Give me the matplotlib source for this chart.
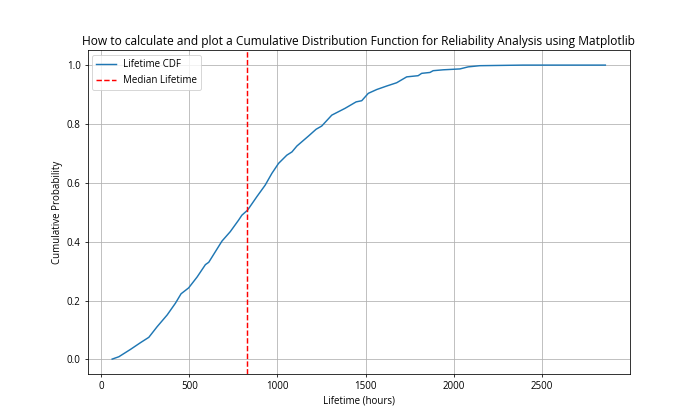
import matplotlib
matplotlib.use('Agg')
import matplotlib.pyplot as plt

plt.rcParams['font.family'] = ['Open Sans', 'DejaVu Sans']

# ECDF (hours, cumulative probability)
lifetime = [62, 100, 166, 223, 270, 317, 374, 421, 453, 496, 544, 591, 610,
            685, 732, 779, 798, 830, 883, 930, 968, 1006, 1053, 1082, 1110,
            1176, 1219, 1251, 1308, 1383, 1446, 1478, 1515, 1563, 1620, 1676,
            1733, 1798, 1818, 1865, 1883, 1940, 2035, 2082, 2148, 2393, 2860]
cdf = [0.001, 0.009, 0.034, 0.057, 0.075, 0.111, 0.151, 0.191, 0.223, 0.243,
       0.280, 0.322, 0.330, 0.402, 0.434, 0.473, 0.490, 0.507, 0.553, 0.592,
       0.632, 0.666, 0.694, 0.705, 0.725, 0.759, 0.782, 0.793, 0.830, 0.853,
       0.875, 0.879, 0.904, 0.917, 0.929, 0.940, 0.960, 0.964, 0.972, 0.975,
       0.981, 0.984, 0.987, 0.994, 0.998, 1.000, 1.000]
median_lifetime = 826

plt.figure(figsize=(10, 6), dpi=70)
plt.plot(lifetime, cdf, label='Lifetime CDF')
plt.axvline(median_lifetime, color='r', linestyle='--', label='Median Lifetime')
plt.xlabel('Lifetime (hours)')
plt.ylabel('Cumulative Probability')
plt.title('How to calculate and plot a Cumulative Distribution Function for Reliability Analysis using Matplotlib',
          fontsize=12.3)
plt.legend()
plt.grid(True)
plt.savefig('out.png', dpi=70)
